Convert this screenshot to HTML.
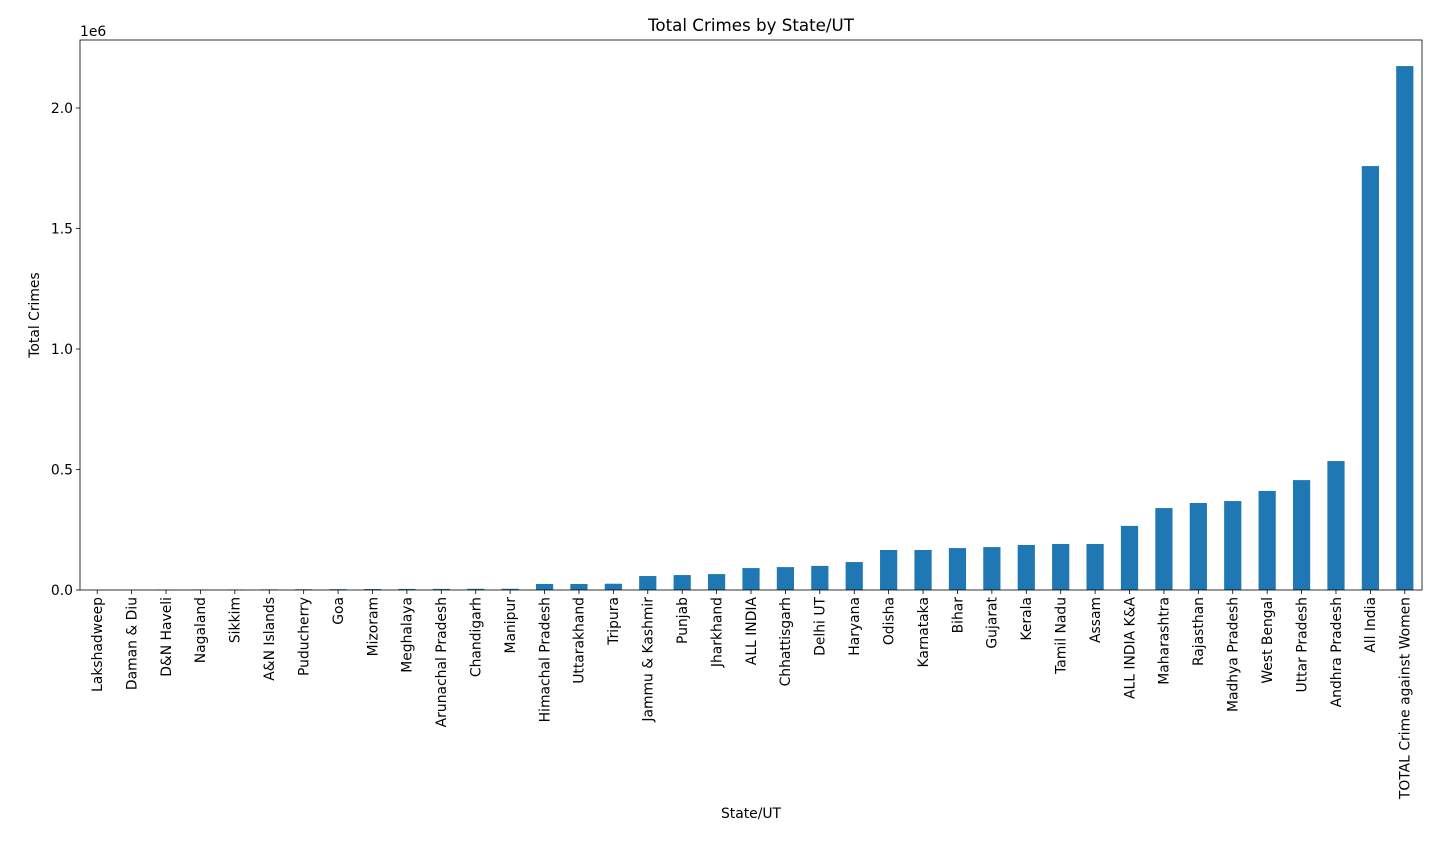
<!DOCTYPE html>
<html><head><meta charset="utf-8"><style>
body{margin:0;background:#fff;}
svg{display:block;font-family:"DejaVu Sans","Liberation Sans",sans-serif;}
</style></head><body>
<svg id="chart" width="1440" height="852"></svg>
<script>
const categories=["Lakshadweep","Daman & Diu","D&N Haveli","Nagaland","Sikkim","A&N Islands","Puducherry","Goa","Mizoram","Meghalaya","Arunachal Pradesh","Chandigarh","Manipur","Himachal Pradesh","Uttarakhand","Tripura","Jammu & Kashmir","Punjab","Jharkhand","ALL INDIA","Chhattisgarh","Delhi UT","Haryana","Odisha","Karnataka","Bihar","Gujarat","Kerala","Tamil Nadu","Assam","ALL INDIA K&A","Maharashtra","Rajasthan","Madhya Pradesh","West Bengal","Uttar Pradesh","Andhra Pradesh","All India","TOTAL Crime against Women"];
const values=[200,400,1500,2000,2000,2500,3000,3500,4000,4500,4500,5000,5000,25000,25000,26000,58000,62000,66000,91000,95000,100000,116000,166000,166000,174000,178000,187000,191000,191000,266000,340000,361000,369000,411000,456000,535000,1759000,2174000];
const yTicks=[0,500000,1000000,1500000,2000000];
const yTickLabels=["0.0","0.5","1.0","1.5","2.0"];
const NS="http://www.w3.org/2000/svg";
const svg=document.getElementById('chart');
const L=80,R=1422,T=40,B=590;
const FS=13.9;
const yScale=v=>B-v*(482/2000000);
const step=(R-L)/categories.length;
const xScale=i=>L+step*(i+0.5);
function mk(tag,attrs,text){const e=document.createElementNS(NS,tag);for(const k in attrs)e.setAttribute(k,attrs[k]);if(text!==undefined)e.textContent=text;svg.appendChild(e);return e;}
categories.forEach((c,i)=>{
  const y=yScale(values[i]);
  const r=mk('rect',{x:xScale(i)-step/4,y:y,width:step/2,height:B-y,fill:'#1f77b4'});
  
  
  const x=xScale(i);
  mk('line',{x1:x,y1:B,x2:x,y2:B+4,stroke:'#000','stroke-width':0.8});
  const t=mk('text',{x:0,y:0,transform:`translate(${x+4.8},${B+7}) rotate(-90)`,'text-anchor':'end','font-size':FS},c);
  
  
});
yTicks.forEach((v,i)=>{
  const y=yScale(v);
  mk('line',{x1:L-4,y1:y,x2:L,y2:y,stroke:'#000','stroke-width':0.8});
  const t=mk('text',{x:L-7,y:y+5,'text-anchor':'end','font-size':FS},yTickLabels[i]);
  
  
});
const fr=mk('rect',{x:L,y:T,width:R-L,height:B-T,fill:'none',stroke:'#000','stroke-width':0.8});


let e;
e=mk('text',{x:80,y:36,'font-size':FS},'1e6');


e=mk('text',{x:751,y:31,'text-anchor':'middle','font-size':16.7},'Total Crimes by State/UT');


e=mk('text',{x:751,y:818,'text-anchor':'middle','font-size':FS},'State/UT');


e=mk('text',{x:0,y:0,transform:'translate(39,315) rotate(-90)','text-anchor':'middle','font-size':FS},'Total Crimes');


</script>
</body></html>
